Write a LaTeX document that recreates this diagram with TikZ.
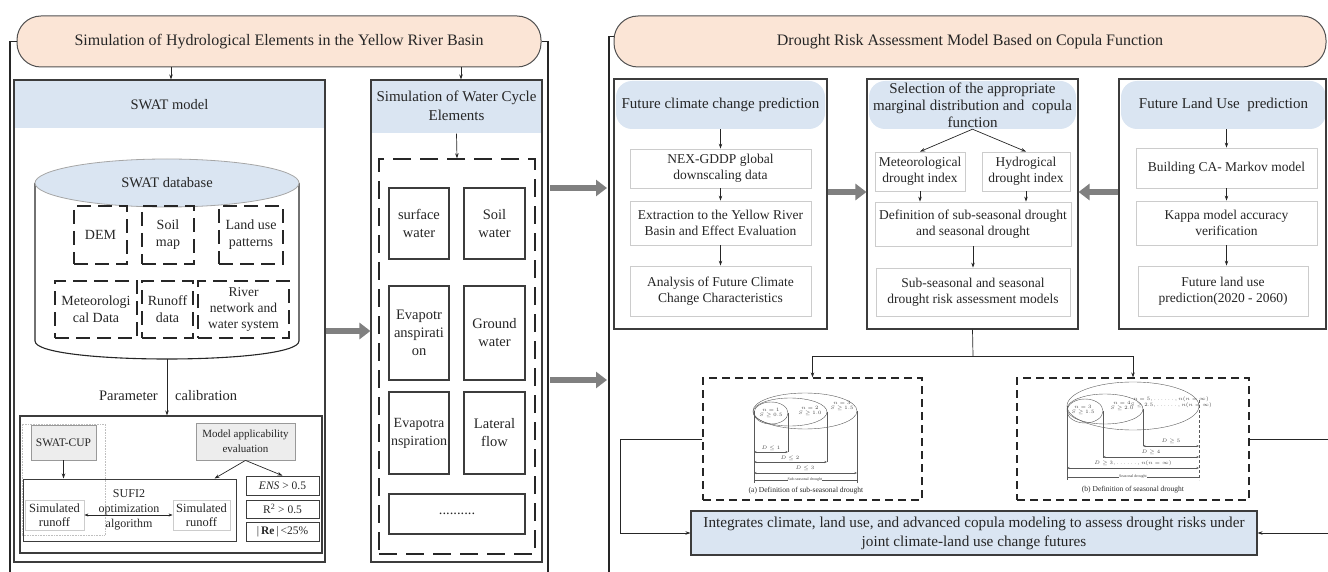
\documentclass[tikz,border=0pt]{standalone}
\usepackage{fontspec}
\setmainfont{Liberation Serif}
\usetikzlibrary{arrows.meta,shapes.geometric}
\definecolor{peach}{HTML}{FBE5D6}
\definecolor{lblue}{HTML}{DAE5F2}
\definecolor{lgray}{HTML}{EDEDED}
\definecolor{bigg}{HTML}{808080}
\definecolor{ink}{HTML}{262626}
\newcommand{\fsz}[2]{\fontsize{#1}{#2}\selectfont}
\begin{document}
\begin{tikzpicture}[x=1pt,y=-1pt,
 sz/.style 2 args={minimum width=#1pt, minimum height=#2pt},
 frm/.style={draw=ink, line width=1.4pt},
 bx/.style={draw=ink!90, line width=1.1pt, align=center, inner sep=1pt, text=ink},
 lbx/.style={draw=black!20, line width=0.8pt, align=center, inner sep=1pt, text=ink},
 dbx/.style={draw=ink, line width=1.3pt, dash pattern=on 14pt off 7pt, align=center, inner sep=1pt, text=ink},
 arr/.style={draw=ink, line width=0.7pt, -{Stealth[length=5pt,width=3.5pt]}},
 plain/.style={draw=ink, line width=0.7pt},
 bigarr/.style={draw=bigg, line width=6pt, -{Triangle[length=11pt,width=16pt]}},
 pill/.style={draw=ink!80, line width=1pt, fill=peach, rounded corners=24pt, text=ink, font=\fsz{16}{19}},
 hdr/.style={fill=lblue, rounded corners=16pt, align=center, text=ink, inner sep=0pt},
 bnd/.style={fill=lblue, inner sep=0pt},
 lbl/.style={text=ink, inner sep=0pt, align=center},
 vn/.style={draw=black!65, line width=0.4pt},
 vt/.style={text=black!75, inner sep=0pt, align=center, font=\fsz{4.5}{5}},
 va/.style={draw=black!65, line width=0.4pt, {Stealth[length=2.5pt,width=2pt]}-{Stealth[length=2.5pt,width=2pt]}},
]
\useasboundingbox (0,0) rectangle (1328,572);

% ================= LEFT PANEL =================
\node[pill, sz={524}{51}] (pillL) at (279,41.5) {Simulation of Hydrological Elements in the Yellow River Basin};
\coordinate (fl) at (10,572);
\coordinate (fr) at (548,572);
\draw[frm] (pillL.west) -| (fl);
\draw[frm] (pillL.east) -| (fr);

% SWAT model box
\node[bnd, sz={309}{48}] (swathead) at (169.5,104.5) {};
\node[lbl, font=\fsz{14.5}{17}] (swattitle) at (169.5,105) {SWAT model};
\node[bx, sz={311}{482}] (swat) at (169.5,321) {};
\coordinate (pl1) at (171,67);
\draw[arr] (pl1) -- (pl1 |- swat.north);

% Water cycle box
\node[bnd, sz={169}{53}] (wchead) at (456.5,107) {};
\node[lbl, font=\fsz{15}{19}] (wctitle) at (456.5,106) {Simulation of Water Cycle\\Elements};
\node[bx, sz={171}{482}] (wc) at (456.5,321) {};
\coordinate (pl2) at (461,67);
\draw[arr] (pl2) -- (pl2 |- wc.north);
\node[dbx, dash pattern=on 18pt off 9pt, sz={156}{395}] (wcd) at (457,356.5) {};
\draw[arr] (wchead.south) -- (wcd.north);

\begin{scope}[every node/.style={bx, font=\fsz{14.5}{18}}]
\node[sz={60}{71}] (sw) at (419,223.5) {surface\\water};
\node[sz={61}{71}] (soilw) at (494.5,223.5) {Soil\\water};
\node[sz={60}{94}] (evap1) at (419,333) {Evapotr\\anspirati\\on};
\node[sz={61}{94}] (gw) at (494.5,333) {Ground\\water};
\node[sz={60}{82}, font=\fsz{14}{18}] (evap2) at (419,433) {Evapotra\\nspiration};
\node[sz={61}{82}] (lat) at (494.5,433) {Lateral\\flow};
\node[sz={136}{40}] (dots) at (457,514) {..........};
\end{scope}

% database cylinder
\draw[draw=ink, line width=1.1pt] (35,183) -- (35,341) .. controls (35,365) and (299,365) .. (299,341) -- (299,183);
\node[ellipse, draw=black!35, line width=0.8pt, fill=lblue, sz={264}{48}, inner sep=0pt, font=\fsz{14.5}{17}, text=ink] (db) at (167,183) {SWAT database};
\coordinate (dbbot) at (167,359);

\begin{scope}[every node/.style={dbx, font=\fsz{14}{17}}]
\node[sz={53}{58}] (dem) at (100.5,235) {DEM};
\node[sz={52}{58}] (soilmap) at (168,235) {Soil\\map};
\node[sz={64}{58}] (landuse) at (251,235) {Land use\\patterns};
\node[sz={82}{57}] (meteo) at (96,309.5) {Meteorologi\\cal Data};
\node[sz={51}{57}] (runoff) at (167.5,309.5) {Runoff\\data};
\node[sz={91}{57}, font=\fsz{13.5}{16}] (river) at (243.5,309.5) {River\\network and\\water system};
\end{scope}

% calibration
\node[bx, sz={302}{137}] (calib) at (171,484.5) {};
\draw[arr] (dbbot) -- (dbbot |- calib.north);
\node[lbl, font=\fsz{14.5}{17}, anchor=east] (param) at (158,396) {Parameter};
\node[lbl, font=\fsz{14.5}{17}, anchor=west] (calibtxt) at (175,396) {calibration};

\node[draw=black!25, densely dotted, line width=0.6pt, sz={83}{111}] (cupdot) at (63.5,479.5) {};
\node[draw=black!40, fill=lgray, line width=0.8pt, sz={65}{35}, font=\fsz{11.5}{14}, text=ink] (cup) at (63.5,442.5) {SWAT-CUP};
\node[draw=black!40, fill=lgray, line width=0.8pt, sz={99}{37}, font=\fsz{11}{15}, align=center, text=ink, inner sep=1pt] (modapp) at (245.5,441.5) {Model applicability\\evaluation};
\node[bx, line width=1pt, sz={213}{62}] (sufi) at (129.5,510) {};
\node[lbl, font=\fsz{12}{15}] (sufitxt) at (129,510) {SUFI2\\optimization\\algorithm};
\node[lbx, sz={59}{30}, font=\fsz{12.5}{14}] (simL) at (54.5,515) {Simulated\\runoff};
\node[lbx, sz={57}{30}, font=\fsz{12.5}{14}] (simR) at (201.5,515) {Simulated\\runoff};
\draw[draw=ink, line width=0.7pt, {Stealth[length=4pt,width=3pt]}-{Stealth[length=4pt,width=3pt]}] (simL.east) -- (simR.west);
\node[bx, line width=0.8pt, sz={73}{19}, font=\fsz{11.5}{13}] (ens) at (282.5,485.5) {\textit{ENS} > 0.5};
\node[bx, line width=0.8pt, sz={73}{18}, font=\fsz{11.5}{13}] (r2) at (282.5,509) {R\textsuperscript{2} > 0.5};
\node[bx, line width=0.8pt, sz={73}{19}, font=\fsz{11.5}{13}] (re) at (282.5,531.5) {|\,\textbf{Re}\,|\,<25\%};
\draw[arr] (cup.south) -- (cup.south |- sufi.north);
\draw[arr] (modapp.south) -- ([xshift=-22pt]sufi.north east);
\draw[arr] (modapp.south) -- (ens.north);

\draw[bigarr] ([yshift=-10pt]swat.east) -- ([yshift=-10pt]wc.west);

% ================= LINKS BETWEEN PANELS =================
\coordinate (g1s) at (550,188);
\coordinate (g1e) at (607,188);
\coordinate (g2s) at (550,380);
\coordinate (g2e) at (607,380);
\draw[bigarr] (g1s) -- (g1e);
\draw[bigarr] (g2s) -- (g2e);

% ================= RIGHT PANEL =================
\node[pill, sz={712}{51}] (pillR) at (970,41.5) {Drought Risk Assessment Model Based on Copula Function};
\coordinate (rf) at (609,572);
\draw[frm] ([yshift=5pt]pillR.west) -| (rf);

% climate
\node[hdr, sz={209}{48}, font=\fsz{15}{18}] (clihead) at (720.5,105) {Future climate change prediction};
\node[bx, sz={213}{250}] (cli) at (720.5,204) {};
\begin{scope}[every node/.style={lbx, font=\fsz{13.5}{16}}]
\node[sz={181}{39}] (nex) at (720.5,168.5) {NEX-GDDP global\\downscaling data};
\node[sz={181}{44}] (extr) at (720.5,223) {Extraction to the Yellow River\\Basin and Effect Evaluation};
\node[sz={181}{50}] (anal) at (720.5,291) {Analysis of Future Climate\\Change Characteristics};
\end{scope}
\draw[arr] (clihead.south) -- (nex.north);
\draw[arr] (nex.south) -- (extr.north);
\draw[arr] (extr.south) -- (anal.north);

% selection
\node[hdr, sz={207}{48}, font=\fsz{15}{17}] (selhead) at (972.5,105) {Selection of the appropriate\\marginal distribution and\ \ copula\\function};
\node[bx, sz={211}{250}] (sel) at (972.5,204) {};
\begin{scope}[every node/.style={lbx, font=\fsz{13.5}{16}}]
\node[sz={90}{39}] (met) at (920,171.5) {Meteorological\\drought index};
\node[sz={88}{39}] (hyd) at (1026,171.5) {Hydrogical\\drought index};
\node[sz={196}{44}] (defn) at (973,224) {Definition of sub-seasonal drought\\and seasonal drought};
\node[sz={194}{48}] (subm) at (973,292) {Sub-seasonal and seasonal\\drought risk assessment models};
\end{scope}
\draw[arr] (selhead.south) -- (met.north);
\draw[arr] (selhead.south) -- (hyd.north);
\draw[arr] (met.south) -- (met.south |- defn.north);
\draw[arr] (hyd.south) -- (hyd.south |- defn.north);
\draw[arr] (defn.south) -- (subm.north);

% land use
\node[hdr, sz={205}{48}, font=\fsz{15}{18}] (landhead) at (1223.5,105) {Future Land Use\ \ prediction};
\node[bx, sz={207}{250}] (land) at (1222.5,204) {};
\begin{scope}[every node/.style={lbx, font=\fsz{13.5}{16}}]
\node[sz={181}{40}] (ca) at (1226.5,168) {Building CA- Markov model};
\node[sz={181}{44}] (kappa) at (1226.5,223) {Kappa model accuracy\\verification};
\node[sz={170}{50}] (flu) at (1223,291) {Future land use\\prediction(2020 - 2060)};
\end{scope}
\draw[arr] (ca.north |- landhead.south) -- (ca.north);
\draw[arr] (ca.south) -- (kappa.north);
\draw[arr] (kappa.south) -- (kappa.south |- flu.north);

\draw[bigarr] ([yshift=12pt]cli.east) -- ([yshift=12pt]sel.west);
\draw[bigarr] ([yshift=12pt]land.west) -- ([yshift=12pt]sel.east);

% lower part
\coordinate (split) at (973,356);
\draw[plain] (sel.south) -- (split);
\node[dbx, dash pattern=on 8pt off 5pt, line width=1.2pt, sz={219}{122}] (defa) at (812.5,439) {};
\node[dbx, dash pattern=on 8pt off 5pt, line width=1.2pt, sz={232}{122}] (defb) at (1133,439) {};
\draw[arr] (split) -| (defa.north);
\draw[arr] (split) -| (defb.north);

\node[draw=ink!90, line width=1.1pt, fill=lblue, sz={566}{44}, font=\fsz{15.2}{19}, align=center, text=ink, inner sep=1pt] (integ) at (974,533) {Integrates climate, land use, and advanced copula modeling to assess drought risks under\\joint climate-land use change futures};
\coordinate (lcx) at (620,0);
\coordinate (rcx) at (1328,0);
\draw[arr] (defa.west) -| (lcx |- integ.west) -- (integ.west);
\draw[plain] (defb.east) -- (defb.east -| rcx);
\draw[arr] (integ.east -| rcx) -- (integ.east);

% Venn (a)
\draw[vn] (771,413) ellipse [x radius=17pt, y radius=11pt];
\draw[vn] (790,412) ellipse [x radius=37pt, y radius=14pt];
\draw[vn] (805,411) ellipse [x radius=52pt, y radius=18pt];
\node[vt] (a1) at (771,413) {$n=1$\\$S\geq0.5$};
\node[vt] (a2) at (810,411) {$n=2$\\$S\geq1.0$};
\node[vt] (a3) at (842,406) {$n=3$\\$S\geq1.5$};
\draw[vn] (754,411) -- (754,483);
\draw[vn] (788,413) -- (788,452);
\draw[vn] (827,412) -- (827,462);
\draw[vn] (857,411) -- (857,483);
\draw[va] (754,452) -- (788,452);
\draw[va] (754,462) -- (827,462);
\draw[va] (754,473) -- (857,473);
\node[vt, font=\fsz{5.5}{6}] (ad1) at (771,448) {$D\leq1$};
\node[vt, font=\fsz{5.5}{6}] (ad2) at (790,458) {$D\leq2$};
\node[vt, font=\fsz{5.5}{6}] (ad3) at (805,468.5) {$D\leq3$};
\node[vt, font=\fsz{4}{5}] (asub) at (805,480) {Sub-seasonal drought};
\draw[vn] (754,480) -- (asub.west);
\draw[vn] (asub.east) -- (857,480);
\node[vt, font=\fsz{7.5}{9}, text=ink] (acap) at (806,491) {(a) Definition of sub-seasonal drought};

% Venn (b)
\draw[vn] (1085,411) ellipse [x radius=18pt, y radius=12pt];
\draw[vn] (1105,409) ellipse [x radius=38pt, y radius=15pt];
\draw[vn] (1133,406) ellipse [x radius=66pt, y radius=24pt];
\node[vt] (b1) at (1083,410) {$n=3$\\$S\geq1.5$};
\node[vt] (b2) at (1122,406) {$n=4$\\$S\geq2.0$};
\node[vt, font=\fsz{3.6}{4.5}] (b3) at (1171,402) {$n=5,\ldots\ldots,n(n=\infty)$\\$S\geq2.5,\ldots\ldots,n(n=\infty)$};
\draw[vn] (1067,406) -- (1067,480);
\draw[vn] (1103,411) -- (1103,458);
\draw[vn] (1143,409) -- (1143,446);
\draw[vn, densely dashed] (1199,400) -- (1199,480);
\draw[va] (1143,446) -- (1199,446);
\draw[va] (1103,457) -- (1199,457);
\draw[va] (1067,468) -- (1199,468);
\node[vt, font=\fsz{5.5}{6}] (bd5) at (1171,441.5) {$D\geq5$};
\node[vt, font=\fsz{5.5}{6}] (bd4) at (1151,452.5) {$D\geq4$};
\node[vt, font=\fsz{3.8}{5}] (bd3) at (1133,463.5) {$D\geq3,\ldots\ldots,n(n=\infty)$};
\node[vt, font=\fsz{4}{5}] (bsub) at (1133,477) {Seasonal drought};
\draw[vn] (1067,477) -- (bsub.west);
\draw[vn] (bsub.east) -- (1199,477);
\node[vt, font=\fsz{7.5}{9}, text=ink] (bcap) at (1133,490) {(b) Definition of seasonal drought};
\end{tikzpicture}
\end{document}
